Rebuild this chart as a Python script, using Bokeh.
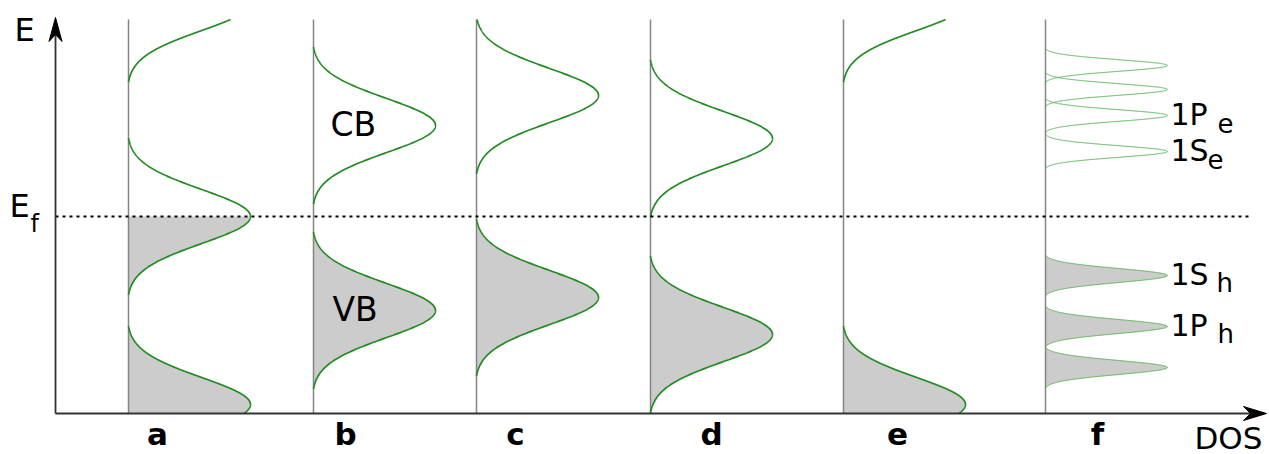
import numpy as np
from bokeh.plotting import figure
from bokeh.models import Range1d
from bokeh.core.properties import value
from bokeh.embed import file_html
from bokeh.resources import INLINE

# ---------------------------------------------------------------------------
# Data: energies are measured from the Fermi level (E_f = 0), upward positive.
# DOS is drawn to the right of each panel's zero line.
# ---------------------------------------------------------------------------
panels = ["a", "b", "c", "d", "e", "f"]
panel_zero = [128, 313, 476, 650, 843, 1045]      # DOS = 0 line of each panel
panel_label_x = [157, 345, 515, 711, 897, 1097]

# band centres (broad bands) for panels a-e
band_centres = {
    "a": [213, 0, -188],
    "b": [91, -94],
    "c": [121, -81],
    "d": [78, -118],
    "e": [213, -188],
}
band_names = ["CB", "VB"]          # labelled in panel b
band_sigma = 27
peak_height = 122

# discrete levels of panel f (quantum dot)
dot_electron_levels = [151, 127, 101, 65]
dot_hole_levels = [-59, -110, -151]
dot_electron_sigma = 5.8
dot_hole_sigma = 7.0
dot_labels = ["1P", "1S", "1S", "1P"]
dot_label_subs = ["e", "e", "h", "h"]
dot_label_levels = [dot_electron_levels[2], dot_electron_levels[3],
                    dot_hole_levels[0], dot_hole_levels[1]]

e_fermi = 0
e_bottom = -197      # energy at the DOS axis
e_top = 197          # top of the drawn panels

FONT = "DejaVu Sans"
GREEN = "#228B22"
LIGHT_GREEN = "#55b455"
FILL = "#cccccc"
ZERO_LINE = "#858585"
AXIS = "#333333"

p = figure(width=1269, height=454, output_backend="svg", toolbar_location=None,
           x_range=Range1d(0, 1269), y_range=Range1d(-238, 216),
           min_border=0, outline_line_color=None)
p.axis.visible = False
p.grid.visible = False
p.background_fill_color = "white"


def peak(E, centre, sigma, height=peak_height, reach=2.9):
    """Gaussian level truncated at +-reach*sigma and shifted to meet zero there."""
    g = np.exp(-0.5 * ((E - centre) / sigma) ** 2)
    c = np.exp(-0.5 * reach ** 2)
    out = height * (g - c) / (1 - c)
    out[np.abs(E - centre) > reach * sigma] = 0.0
    return out


def draw_panel(x0, centres, sigmas, color, width):
    E = np.linspace(e_bottom, e_top, 3000)
    # occupied states (below E_f) are shaded
    total = np.zeros_like(E)
    for c, s in zip(centres, sigmas):
        total = np.maximum(total, peak(E, c, s))
    occ = E <= e_fermi
    p.harea(x1=np.full(occ.sum(), x0), x2=x0 + total[occ], y=E[occ],
            fill_color=FILL, fill_alpha=1.0)
    # zero line of the panel
    p.segment(x0=[x0], y0=[e_bottom], x1=[x0], y1=[e_top],
              line_color=ZERO_LINE, line_width=1.5)
    # each level drawn as its own curve
    for c, s in zip(centres, sigmas):
        lo = max(c - 2.9 * s, e_bottom)
        hi = min(c + 2.9 * s, e_top)
        if lo >= hi:
            continue
        Ei = np.linspace(lo, hi, 600)
        p.line(x0 + peak(Ei, c, s), Ei, line_color=color, line_width=width)


for name, x0 in zip(panels[:5], panel_zero[:5]):
    cs = band_centres[name]
    draw_panel(x0, cs, [band_sigma] * len(cs), GREEN, 1.7)

f_levels = dot_electron_levels + dot_hole_levels
f_sigmas = [dot_electron_sigma] * len(dot_electron_levels) + [dot_hole_sigma] * len(dot_hole_levels)
draw_panel(panel_zero[5], f_levels, f_sigmas, LIGHT_GREEN, 1.0)

# Fermi level
axis_x = 55
p.segment(x0=[axis_x], y0=[e_fermi], x1=[1252], y1=[e_fermi],
          line_color="black", line_width=1.8, line_dash="3 4")

# Energy and DOS axes with arrow heads
y_tip = 199
x_tip = 1266
p.segment(x0=[axis_x], y0=[e_bottom], x1=[axis_x], y1=[y_tip - 10],
          line_color=AXIS, line_width=1.8)
p.segment(x0=[axis_x], y0=[e_bottom], x1=[x_tip - 10], y1=[e_bottom],
          line_color=AXIS, line_width=1.8)
p.patch([axis_x, axis_x - 6.5, axis_x, axis_x + 6.5],
        [y_tip, y_tip - 24, y_tip - 17, y_tip - 24],
        fill_color="black", line_color="black", line_width=1)
p.patch([x_tip, x_tip - 23, x_tip - 16, x_tip - 23],
        [e_bottom, e_bottom + 7, e_bottom, e_bottom - 7],
        fill_color="black", line_color="black", line_width=1)

# ---------------------------------------------------------------------------
# Texts (the svg text baseline sits a little low, hence the lift)
# ---------------------------------------------------------------------------
LIFT = 13


def label(x, y, txt, size, bold=False, align="left"):
    p.text(x=[x], y=[y + LIFT], text=[txt], text_font=value(FONT),
           text_font_size=value(f"{size}px"),
           text_font_style="bold" if bold else "normal",
           text_align=align, text_baseline="alphabetic", text_color="black")


label(14, 174, "E", 32)
label(9, -2, "E", 32)
label(30, -20, "f", 24)
label(1194, -234, "DOS", 31)

for name, lx in zip(panels, panel_label_x):
    label(lx, -230, name, 31, bold=True, align="center")

# band labels in panel b
label(330, band_centres["b"][0] - 12, band_names[0], 33)
label(332, band_centres["b"][1] - 12, band_names[1], 33)

# level labels in panel f
sub_dx = [47, 37, 46, 47]
for txt, sub, lev, dx in zip(dot_labels, dot_label_subs, dot_label_levels, sub_dx):
    label(1170, lev - 12, txt, 30)
    label(1170 + dx, lev - 20, sub, 26)

open("out.html", "w").write(file_html(p, INLINE))
